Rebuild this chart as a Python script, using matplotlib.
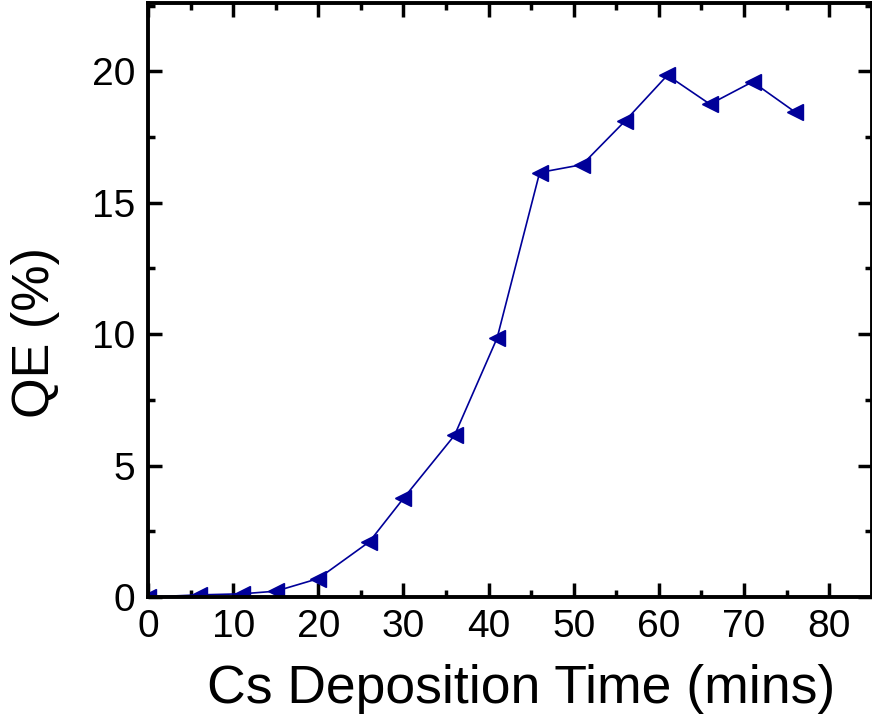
import matplotlib
matplotlib.use('Agg')
from matplotlib import pyplot as plt
from matplotlib.ticker import MultipleLocator

plt.rcParams['font.family'] = ['Liberation Sans', 'DejaVu Sans']

# Cs deposition time (mins) vs QE (%)
t_mins = [0, 6, 11, 15, 20, 26, 30, 36, 41, 46, 51, 56, 61, 66, 71, 76]
qe_pct = [0.0, 0.08, 0.12, 0.22, 0.7, 2.1, 3.75, 6.15, 9.85, 16.15, 16.45, 18.1, 19.85, 18.75, 19.6, 18.45]

fig = plt.figure(figsize=(8.72, 7.26), dpi=100)
ax = fig.add_axes([0.1697, 0.1777, 0.8300, 0.8182])

blue = '#000099'
ax.plot(t_mins, qe_pct, '-', color=blue, lw=1.2, marker='<', ms=11.5,
        mfc=blue, mec=blue)

ax.set_xlim(0, 85)
ax.set_ylim(0, 22.6)
ax.xaxis.set_major_locator(MultipleLocator(10))
ax.xaxis.set_minor_locator(MultipleLocator(5))
ax.yaxis.set_major_locator(MultipleLocator(5))
ax.yaxis.set_minor_locator(MultipleLocator(2.5))

ax.tick_params(which='both', direction='in', top=True, right=True,
               width=2.5, labelsize=28, colors='black')
ax.tick_params(which='major', length=10, pad=9)
ax.tick_params(which='minor', length=5)

for s in ax.spines.values():
    s.set_linewidth(2.8)

ax.set_xlabel('Cs Deposition Time (mins)', fontsize=38.5)
ax.set_ylabel('QE (%)', fontsize=37.5)
ax.xaxis.set_label_coords(0.515, -0.112)
ax.yaxis.set_label_coords(-0.122, 0.445)

fig.savefig('out.png', dpi=100)
